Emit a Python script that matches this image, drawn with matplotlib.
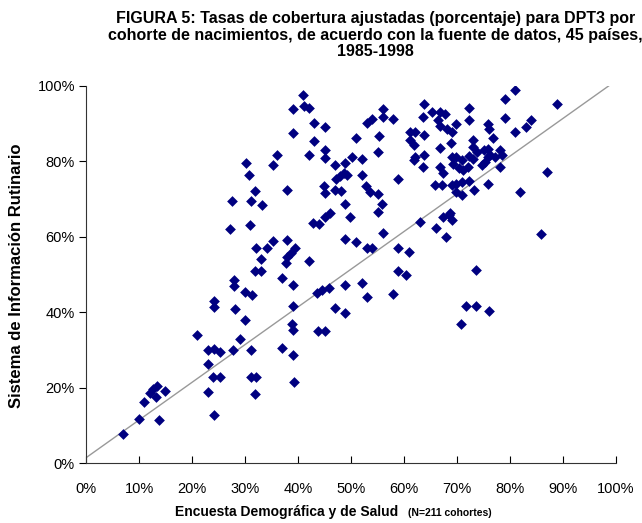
import numpy as np
import matplotlib.pyplot as plt

plt.rcParams['font.family'] = ['Liberation Sans', 'DejaVu Sans']

# cobertura DPT3 por cohorte (%): encuesta (x) vs sistema rutinario (y)
enc = [7.0, 10.0, 10.9, 12.0, 12.7, 13.3, 13.2, 14.9, 13.8,
       21.0, 23.0, 24.2, 25.2, 23.0, 24.0, 25.3, 23.0, 24.2, 24.2, 24.2, 27.8, 27.6, 27.2,
       29.1, 31.1, 31.1, 32.0, 31.9, 37.0, 39.1, 39.3,
       30.9, 32.0, 34.2, 35.2, 38.0, 33.1, 39.4, 38.7, 37.9, 37.7, 42.0, 31.9, 33.0,
       37.0, 39.1, 28.0, 28.0, 30.0, 31.3, 28.1, 30.0, 39.0, 38.9, 39.1, 42.9, 44.0,
       45.1, 46.0, 48.9, 48.9, 43.6, 44.5, 45.9, 47.0, 48.9, 43.8, 45.1,
       40.9, 39.1, 41.1, 42.1, 43.0, 45.0, 39.1, 43.1, 45.0, 42.0, 45.0, 36.1, 35.2,
       30.1, 30.8, 38.0, 31.9, 31.2, 33.2, 47.0, 48.8, 48.6, 47.9, 49.2, 47.2, 44.9,
       45.0, 47.0, 48.1, 48.9,
       56.0, 53.9, 53.0, 56.0, 57.9, 50.9, 55.2, 55.0, 50.1, 52.1, 52.1, 58.9, 52.8,
       53.6, 55.0, 55.9, 63.8, 65.2, 66.8, 67.7, 63.6, 72.2, 72.2, 69.9, 66.8, 68.1,
       69.0, 61.1, 62.0, 63.8, 61.1, 61.8, 68.8, 66.8, 63.8, 62.1, 61.8, 72.3, 69.0,
       69.9, 70.9, 69.3, 70.3, 71.2, 63.5, 66.8, 72.1, 67.4, 70.9, 65.8, 67.1, 69.0,
       69.9, 69.9, 70.9, 72.2, 66.5,
       80.9, 79.1, 88.8, 79.1, 84.0, 83.0, 75.9, 76.1, 80.9, 76.8, 73.1, 73.1, 73.7,
       75.0, 75.9, 76.2, 77.2, 78.1, 78.4, 73.1, 75.3, 74.7, 75.9, 78.1, 87.0, 75.9,
       73.2, 81.9,
       55.0, 49.8, 56.0, 50.9, 53.0, 54.0, 58.9, 61.0, 63.0, 66.0, 67.9, 67.4, 68.4,
       69.0, 68.7, 58.9, 60.4, 52.1, 53.0, 57.9, 71.7, 70.7,
       85.8, 73.6, 73.6, 76.0]
sis = [7.6, 11.6, 16.3, 18.5, 19.6, 20.3, 17.6, 19.2, 11.3,
       33.9, 29.9, 30.2, 29.4, 26.2, 22.8, 22.8, 18.8, 12.8, 43.0, 41.5, 30.0, 69.6, 62.0,
       32.8, 30.0, 22.8, 22.8, 18.4, 30.6, 28.6, 21.5,
       63.1, 57.1, 56.9, 58.8, 59.1, 54.0, 56.9, 55.8, 54.6, 53.0, 53.5, 50.9, 50.9,
       49.2, 47.1, 48.5, 46.9, 45.4, 44.5, 40.8, 37.9, 41.6, 36.8, 35.2, 63.7, 63.5,
       65.3, 66.2, 59.3, 47.1, 45.1, 46.0, 46.5, 41.0, 39.8, 35.0, 35.0,
       97.7, 93.8, 94.7, 94.2, 90.3, 89.2, 87.6, 85.3, 82.9, 81.8, 80.9, 81.6, 79.1,
       79.5, 76.5, 72.3, 72.2, 69.6, 68.5, 79.1, 79.6, 77.0, 76.0, 76.3, 75.4, 73.5,
       71.7, 72.3, 72.1, 68.7,
       94.0, 91.3, 90.2, 91.8, 91.3, 86.3, 86.7, 82.5, 81.2, 80.7, 76.5, 75.4, 73.5,
       71.9, 71.4, 68.7, 95.1, 93.1, 93.0, 92.7, 91.8, 94.1, 91.0, 89.8, 89.4, 88.7,
       87.8, 87.8, 87.8, 86.9, 85.6, 84.3, 85.0, 83.6, 81.8, 81.2, 80.3, 81.4, 81.2,
       81.2, 80.3, 79.4, 78.3, 77.7, 78.5, 78.5, 78.5, 77.0, 74.5, 73.8, 73.8, 73.7,
       74.1, 71.9, 71.0, 74.8, 91.0,
       98.9, 96.5, 95.3, 91.5, 91.1, 89.1, 90.0, 88.7, 87.8, 86.3, 85.8, 83.8, 82.5,
       82.9, 83.4, 81.6, 81.2, 82.9, 81.6, 80.7, 79.8, 79.1, 81.2, 78.5, 77.2, 73.9,
       72.3, 71.9,
       66.6, 65.3, 60.9, 58.6, 56.9, 57.1, 56.9, 56.0, 63.8, 62.2, 59.9, 65.3, 65.7,
       64.5, 66.2, 50.9, 49.8, 47.7, 43.9, 44.9, 41.6, 36.8,
       60.8, 51.1, 41.6, 40.2]

ticks = np.arange(0, 101, 10)
ticks_y = np.arange(0, 101, 20)

fig = plt.figure(figsize=(6.42, 5.23), dpi=100)
ax = fig.add_axes([0.134, 0.1147, 0.8255, 0.7209])

ax.plot([0, 98.6], [1.4, 100], color='#999999', lw=1, zorder=1)
ax.scatter(enc, sis, marker='D', s=30, color='#000080', linewidths=0, zorder=2)

ax.set_xlim(0, 100)
ax.set_ylim(0, 100)
ax.set_xticks(ticks)
ax.set_xticklabels(['%d%%' % t for t in ticks], fontsize=10.5)
ax.set_yticks(ticks_y)
ax.set_yticklabels(['%d%%' % t for t in ticks_y], fontsize=10.5)
ax.tick_params(axis='x', direction='in', length=5, pad=14)
ax.tick_params(axis='y', direction='out', length=5, pad=3)
for s in ['top', 'right']:
    ax.spines[s].set_visible(False)
for s in ['left', 'bottom']:
    ax.spines[s].set_color('#333333')

fig.text(0.585, 0.979, 'FIGURA 5: Tasas de cobertura ajustadas (porcentaje) para DPT3 por\n'
         'cohorte de nacimientos, de acuerdo con la fuente de datos, 45 países,\n1985-1998',
         ha='center', va='top', fontsize=11.5, fontweight='bold', linespacing=1.13)
fig.text(0.026, 0.473, 'Sistema de Información Rutinario', rotation=90, ha='center', va='center',
         fontsize=12, fontweight='bold')
fig.text(0.272, 0.007, 'Encuesta Demográfica y de Salud', ha='left', va='bottom',
         fontsize=10, fontweight='bold')
fig.text(0.636, 0.009, '(N=211 cohortes)', ha='left', va='bottom', fontsize=7.5, fontweight='bold')

fig.savefig('out.png', dpi=100)
